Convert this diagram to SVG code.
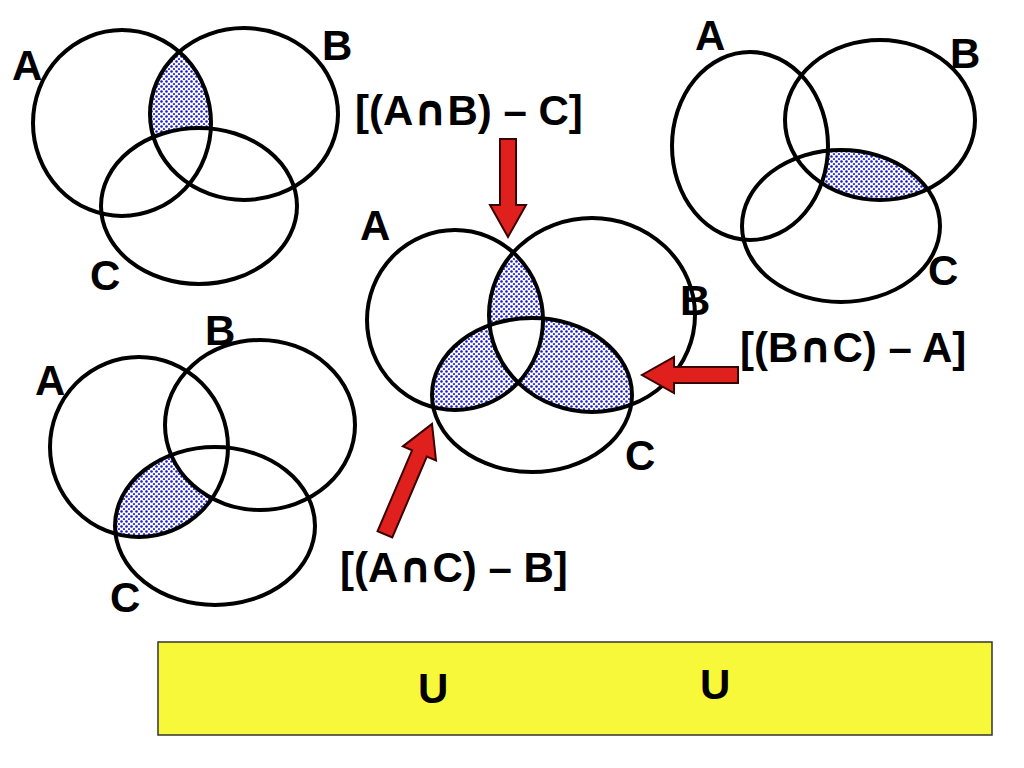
<svg xmlns="http://www.w3.org/2000/svg" width="1024" height="768" viewBox="0 0 1024 768">
<style>
.c{fill:none;stroke:#000;stroke-width:4}
.t{font-family:"Liberation Sans",Arial,sans-serif;font-weight:bold;font-size:42px;fill:#000}
.cap{font-family:"DejaVu Sans",sans-serif}
.ar{fill:#e0201c;stroke:#3a0000;stroke-width:2}
</style>
<defs>
<pattern id="dots" width="5" height="5" patternUnits="userSpaceOnUse">
<rect width="5" height="5" fill="#fff"/>
<circle cx="1.5" cy="1.5" r="1.3" fill="#1a1acc"/>
<circle cx="4" cy="4" r="1.1" fill="#2a2add"/>
</pattern>
<clipPath id="tlA"><ellipse cx="122" cy="123" rx="89" ry="93"/></clipPath>
<mask id="tlM"><rect width="1024" height="768" fill="#000"/><ellipse cx="244" cy="114" rx="94" ry="86" fill="#fff"/><ellipse cx="199" cy="206" rx="98" ry="78" fill="#000"/></mask>
<clipPath id="trB"><ellipse cx="880" cy="120" rx="95" ry="80"/></clipPath>
<mask id="trM"><rect width="1024" height="768" fill="#000"/><ellipse cx="841" cy="226" rx="99" ry="76" fill="#fff"/><ellipse cx="750" cy="146" rx="78" ry="94" fill="#000"/></mask>
<clipPath id="blA"><ellipse cx="139" cy="447" rx="89" ry="90"/></clipPath>
<mask id="blM"><rect width="1024" height="768" fill="#000"/><ellipse cx="215" cy="526" rx="100" ry="79" fill="#fff"/><ellipse cx="260" cy="425" rx="95" ry="85" fill="#000"/></mask>
<clipPath id="cA"><ellipse cx="455" cy="320" rx="88" ry="90"/></clipPath>
<clipPath id="cB"><ellipse cx="592" cy="315" rx="103" ry="97"/></clipPath>
<mask id="cM1"><rect width="1024" height="768" fill="#000"/><ellipse cx="592" cy="315" rx="103" ry="97" fill="#fff"/><ellipse cx="532" cy="395" rx="100" ry="77" fill="#000"/></mask>
<mask id="cM2"><rect width="1024" height="768" fill="#000"/><ellipse cx="532" cy="395" rx="100" ry="77" fill="#fff"/><ellipse cx="455" cy="320" rx="88" ry="90" fill="#000"/></mask>
<mask id="cM3"><rect width="1024" height="768" fill="#000"/><ellipse cx="532" cy="395" rx="100" ry="77" fill="#fff"/><ellipse cx="592" cy="315" rx="103" ry="97" fill="#000"/></mask>
</defs>
<rect width="1024" height="768" fill="#fff"/>
<g id="venn-topleft">
<g clip-path="url(#tlA)"><rect width="1024" height="768" fill="url(#dots)" mask="url(#tlM)"/></g>
<ellipse class="c" cx="122" cy="123" rx="89" ry="93"/>
<ellipse class="c" cx="244" cy="114" rx="94" ry="86"/>
<ellipse class="c" cx="199" cy="206" rx="98" ry="78"/>
<text class="t" x="12" y="80">A</text><text class="t" x="322" y="60">B</text><text class="t" x="90" y="290">C</text>
</g>
<g id="venn-topright">
<g clip-path="url(#trB)"><rect width="1024" height="768" fill="url(#dots)" mask="url(#trM)"/></g>
<ellipse class="c" cx="750" cy="146" rx="78" ry="94"/>
<ellipse class="c" cx="880" cy="120" rx="95" ry="80"/>
<ellipse class="c" cx="841" cy="226" rx="99" ry="76"/>
<text class="t" x="695" y="50">A</text><text class="t" x="950" y="68">B</text><text class="t" x="928" y="285">C</text>
</g>
<g id="venn-bottomleft">
<g clip-path="url(#blA)"><rect width="1024" height="768" fill="url(#dots)" mask="url(#blM)"/></g>
<ellipse class="c" cx="139" cy="447" rx="89" ry="90"/>
<ellipse class="c" cx="260" cy="425" rx="95" ry="85"/>
<ellipse class="c" cx="215" cy="526" rx="100" ry="79"/>
<text class="t" x="35" y="395">A</text><text class="t" x="205" y="345">B</text><text class="t" x="110" y="612">C</text>
</g>
<g id="venn-center">
<g clip-path="url(#cA)"><rect width="1024" height="768" fill="url(#dots)" mask="url(#cM1)"/></g>
<g clip-path="url(#cB)"><rect width="1024" height="768" fill="url(#dots)" mask="url(#cM2)"/></g>
<g clip-path="url(#cA)"><rect width="1024" height="768" fill="url(#dots)" mask="url(#cM3)"/></g>
<ellipse class="c" cx="455" cy="320" rx="88" ry="90"/>
<ellipse class="c" cx="592" cy="315" rx="103" ry="97"/>
<ellipse class="c" cx="532" cy="395" rx="100" ry="77"/>
<text class="t" x="360" y="240">A</text><text class="t" x="680" y="315">B</text><text class="t" x="625" y="470">C</text>
</g>
<g id="labels">
<text class="t" x="355" y="125">[(A<tspan class="cap">∩</tspan>B) – C]</text>
<text class="t" x="740" y="362">[(B<tspan class="cap">∩</tspan>C) – A]</text>
<text class="t" x="340" y="582">[(A<tspan class="cap">∩</tspan>C) – B]</text>
</g>
<g id="connectors">
<path class="ar" transform="translate(508,237) rotate(90)" d="M-98,-8 L-32,-8 L-32,-18 L0,0 L-32,18 L-32,8 L-98,8 Z"/>
<path class="ar" transform="translate(642,375) rotate(180)" d="M-96,-8 L-32,-8 L-32,-18 L0,0 L-32,18 L-32,8 L-96,8 Z"/>
<path class="ar" transform="translate(432,424) rotate(-66.9)" d="M-120,-8 L-32,-8 L-32,-18 L0,0 L-32,18 L-32,8 L-120,8 Z"/>
</g>
<g id="universe">
<rect x="158" y="642" width="834" height="93" fill="#f8f83a" stroke="#333" stroke-width="1.5"/>
<text class="t" x="418" y="703">U</text>
<text class="t" x="700" y="699">U</text>
</g>
</svg>
